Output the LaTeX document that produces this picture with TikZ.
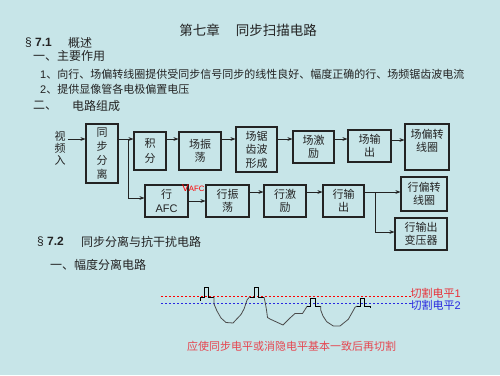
\documentclass[tikz,border=0pt]{standalone}
\usepackage{fontspec}
\setmainfont{Noto Sans CJK SC}
\newfontfamily\lat{Liberation Sans}
\usetikzlibrary{arrows.meta}
\definecolor{bg}{RGB}{199,229,232}
\definecolor{ink}{RGB}{35,35,35}
\definecolor{wgray}{RGB}{75,75,75}
\definecolor{cutred}{RGB}{232,48,56}
\definecolor{cutblue}{RGB}{40,40,224}
\definecolor{notered}{RGB}{230,70,80}
\tikzset{
  txt/.style={inner sep=0pt, text=ink, font=\fontsize{11}{11}\selectfont},
  hd/.style={inner sep=0pt, text=ink, font=\fontsize{12}{12}\selectfont, anchor=west},
  blk/.style={draw=ink, line width=1.1pt, inner sep=0pt, text=ink, align=center,
    font=\fontsize{11}{13.5}\selectfont},
  conn/.style={draw=ink, line width=0.9pt},
  arr/.style={conn, -{Stealth[length=5pt,width=3.8pt]}},
  pulse/.style={draw=black, line width=0.8pt},
  curve/.style={draw=wgray, line width=0.8pt, line join=round}
}
\begin{document}
\begin{tikzpicture}[x=1pt,y=-1pt]
\fill[bg] (0,0) rectangle (500,375);
\useasboundingbox (0,0) rectangle (500,375);

% headings
\node[inner sep=0pt, text=ink, font=\fontsize{13.5}{13.5}\selectfont] (title) at (248,30) {第七章\hspace{16pt}同步扫描电路};
\node[hd] (s71) at (25,43) {{\lat § \textbf{7.1}}};
\node[hd] (s71t) at (68,43) {概述};
\node[hd] (h1) at (33,56) {一、主要作用};
\node[txt, anchor=west] (l1) at (40,74) {{\lat 1}、向行、场偏转线圈提供受同步信号同步的线性良好、幅度正确的行、场频锯齿波电流};
\node[txt, anchor=west] (l2) at (40,89) {{\lat 2}、提供显像管各电极偏置电压};
\node[hd] (h2) at (33,106) {二、};
\node[hd] (h2t) at (72,106) {电路组成};

% block diagram
\coordinate (r1) at (0,139);
\node[txt, align=center, font=\fontsize{11}{11.7}\selectfont] (sp) at (60,148.3) {视\\频\\入};
\node[blk, minimum width=32pt, minimum height=59pt, font=\fontsize{11}{14}\selectfont] (tbfl) at (102,153.5) {同\\步\\分\\离};
\node[blk, minimum width=32pt, minimum height=38pt, font=\fontsize{11}{15}\selectfont] (jf) at (150,151) {积\\分};
\node[blk, minimum width=42pt, minimum height=38pt] (czd) at (200,151) {场振\\荡};
\node[blk, minimum width=41pt, minimum height=45pt] (cjc) at (256.5,149.5) {场锯\\齿波\\形成};
\node[blk, minimum width=41pt, minimum height=32pt] (cjl) at (313.5,147) {场激\\励};
\node[blk, minimum width=43pt, minimum height=32pt] (csc) at (369.5,146) {场输\\出};
\node[blk, minimum width=44pt, minimum height=46pt] (cpz) at (427,147) {};
\node[txt, align=center, font=\fontsize{11}{12.5}\selectfont] (cpzt) at (427,141) {场偏转\\线圈};

\node[blk, minimum width=43pt, minimum height=32pt] (hafc) at (166.5,201) {行\\{\lat AFC}};
\node[blk, minimum width=43pt, minimum height=32pt] (hzd) at (227.5,201) {行振\\荡};
\node[blk, minimum width=42pt, minimum height=32pt] (hjl) at (285,201) {行激\\励};
\node[blk, minimum width=41pt, minimum height=32pt] (hsc) at (343.5,201) {行输\\出};
\node[blk, minimum width=46pt, minimum height=34pt] (hpz) at (424,194) {行偏转\\线圈};
\node[blk, minimum width=52pt, minimum height=32pt] (hbyq) at (421,234) {行输出\\变压器};
\node[inner sep=0pt, text=red, anchor=west] (vafc) at (182,188.5) {{\lat\fontsize{10}{10}\selectfont V}{\lat\fontsize{7.8}{7.8}\selectfont AFC}};

\coordinate (j1) at (128,139);
\coordinate (j1b) at (128,198);
\coordinate (j2) at (375,192);
\coordinate (j3) at (375,232);

\draw[arr] ([xshift=2pt]sp.east |- r1) -- (tbfl.west |- r1);
\draw[conn] (tbfl.east |- r1) -- (j1);
\draw[arr] (j1) -- (jf.west |- r1);
\draw[conn] (j1) -- (j1b);
\draw[arr] (j1b) -- (hafc.west |- j1b);
\draw[arr] (jf.east |- r1) -- (czd.west |- r1);
\draw[arr] (czd.east |- r1) -- (cjc.west |- r1);
\draw[arr] (cjc.east |- r1) -- (cjl.west |- r1);
\draw[arr] (cjl.east |- r1) -- (csc.west |- r1);
\draw[arr] ([yshift=-1pt]csc.east |- r1) -- ([yshift=-1pt]cpz.west |- r1);

\draw[arr] (hafc.east) -- (hzd.west);
\draw[arr] (hzd.east |- j2) -- (hjl.west |- j2);
\draw[arr] (hjl.east |- j2) -- (hsc.west |- j2);
\draw[conn] (hsc.east |- j2) -- (j2);
\draw[arr] (j2) -- (hpz.west |- j2);
\draw[conn] (j2) -- (j3);
\draw[arr] (j3) -- (hbyq.west |- j3);

% section 7.2
\node[hd] (s72) at (37,242) {{\lat § \textbf{7.2}}};
\node[hd] (s72t) at (81,242) {同步分离与抗干扰电路};
\node[hd] (h3) at (50,265) {一、幅度分离电路};

% cut levels
\coordinate (c1a) at (161,296);
\coordinate (c2a) at (161,303);
\node[txt, anchor=west, text=cutred] (lab1) at (410.5,293) {切割电平{\lat 1}};
\node[txt, anchor=west, text=cutblue] (lab2) at (410.5,305) {切割电平{\lat 2}};
\draw[red, line width=0.9pt, dash pattern=on 2pt off 2pt] (c1a) -- (lab1.west |- c1a);
\draw[cutblue, line width=0.9pt, dash pattern=on 2pt off 2pt] (c2a) -- (lab2.west |- c2a);

% waveform
\draw[pulse] (200.7,300.7) -- (200.7,297) -- (204.3,297) -- (204.3,287) -- (208.7,287) -- (208.7,297) -- (214,297);
\draw[curve] (214,297) -- (214,304) -- (217,311) -- (221,318) -- (226,322.5) -- (233,323) -- (241,314.5) -- (244,309) -- (247,300) -- (249.5,297);
\draw[pulse] (249.5,297) -- (254.3,297) -- (254.3,287) -- (258.3,287) -- (258.3,297) -- (264,297);
\draw[curve] (264,297) -- (265.5,304) -- (266.5,310) -- (267.5,317.5) -- (270,319) -- (283,325) -- (290,318) -- (295,313.5) -- (302.5,313.5) -- (307.3,306);
\draw[pulse] (307.3,306) -- (310.7,306) -- (310.7,298.3) -- (315,298.3) -- (315,306) -- (320.7,306);
\draw[curve] (320.7,306) -- (320.7,310) -- (323,316) -- (326.7,321.7) -- (333.3,326) -- (340,326) -- (348.3,319.3) -- (353,311) -- (355,307.3) -- (357.3,306);
\draw[pulse] (357.3,306) -- (360.7,306) -- (360.7,298.3) -- (364.3,298.3) -- (364.3,306) -- (370,306) -- (370,308.3);

\node[txt, text=notered] (note) at (291.5,346) {应使同步电平或消隐电平基本一致后再切割};
\end{tikzpicture}
\end{document}
